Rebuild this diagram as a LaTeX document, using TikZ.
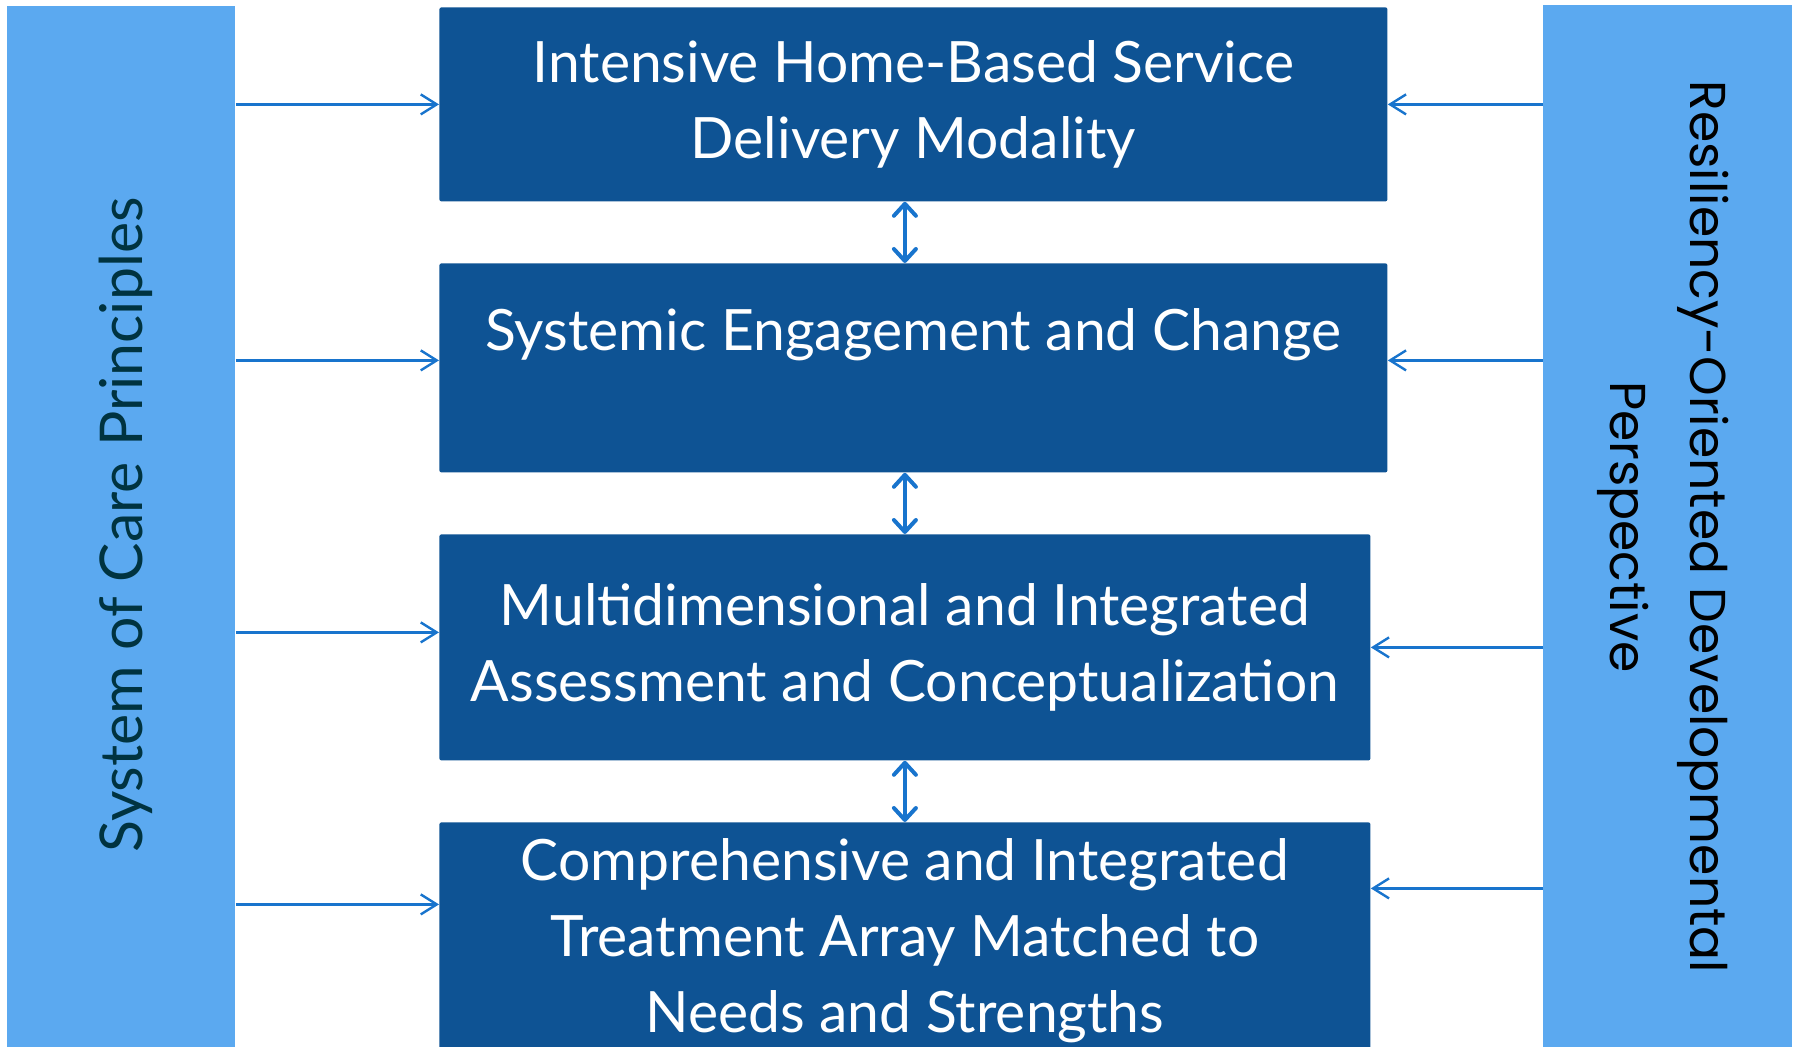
\documentclass[tikz,border=0pt]{standalone}
\usepackage{fontspec}
\setmainfont{Lato}
\newfontfamily\sidefont{Poppins}
\usetikzlibrary{arrows.meta}
\definecolor{barblue}{HTML}{5BA9F0}
\definecolor{boxblue}{HTML}{0E5394}
\definecolor{linkblue}{HTML}{1874CD}
\definecolor{leftink}{HTML}{003340}

\begin{document}
\begin{tikzpicture}[x=0.5pt,y=-0.5pt,
  bar/.style={fill=barblue, inner sep=0pt, anchor=north west},
  stage/.style={fill=boxblue, rounded corners=1pt, inner sep=0pt, anchor=north west,
    text=white, align=center, font=\fontsize{28.5}{38}\selectfont},
  sidearrow/.style={-{Straight Barb[length=8pt,width=10pt]}, line width=1.2pt, linkblue},
  linkarrow/.style={{Straight Barb[round,length=6pt,width=11pt]}-{Straight Barb[round,length=6pt,width=11pt]},
    line width=2pt, line cap=round, linkblue}]

\clip (0,0) rectangle (1798,1047);

\node[bar, minimum width=114pt, minimum height=527pt] (soc) at (7,6) {};
\node[bar, minimum width=124.5pt, minimum height=527.5pt] (rod) at (1543,5) {};
\node[rotate=90, text=leftink, font=\fontsize{29.5}{38}\selectfont] (soclabel) at (126,525) {System of Care Principles};
\node[rotate=-90, align=center, font=\sidefont\fontsize{25.2}{40}\selectfont] (rodlabel) at (1663,527)
  {Resiliency-Oriented Developmental\\Perspective};

\node[stage, minimum width=474pt, minimum height=97pt] (b1) at (439,7)
  {Intensive Home-Based Service\\Delivery Modality};
\node[stage, minimum width=474pt, minimum height=104.5pt] (b2) at (439,263)
  {Systemic Engagement and Change\\\mbox{}};
\node[stage, minimum width=465.5pt, minimum height=113pt] (b3) at (439,534)
  {Multidimensional and Integrated\\Assessment and Conceptualization};
\node[stage, minimum width=465.5pt, minimum height=118pt] (b4) at (439,822)
  {Comprehensive and Integrated\\Treatment Array Matched to\\Needs and Strengths};

\draw[sidearrow] (b1.west -| soc.east) -- (b1.west);
\draw[sidearrow] ([yshift=3.75pt]b2.west -| soc.east) -- ([yshift=3.75pt]b2.west);
\draw[sidearrow] ([yshift=7.5pt]b3.west -| soc.east) -- ([yshift=7.5pt]b3.west);
\draw[sidearrow] ([yshift=18pt]b4.west -| soc.east) -- ([yshift=18pt]b4.west);

\draw[sidearrow] (b1.east -| rod.west) -- (b1.east);
\draw[sidearrow] ([yshift=3.75pt]b2.east -| rod.west) -- ([yshift=3.75pt]b2.east);
\draw[sidearrow] (b3.east -| rod.west) -- (b3.east);
\draw[sidearrow] ([yshift=26pt]b4.east -| rod.west) -- ([yshift=26pt]b4.east);

\draw[linkarrow] (b3.north |- b1.south) -- (b3.north |- b2.north);
\draw[linkarrow] (b3.north |- b2.south) -- (b3.north);
\draw[linkarrow] (b3.south) -- (b4.north);
\end{tikzpicture}
\end{document}
